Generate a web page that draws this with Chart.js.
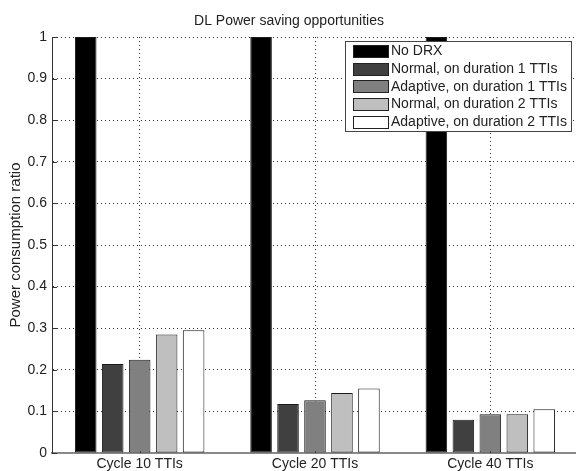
<!DOCTYPE html>
<html>
<head>
<meta charset="utf-8">
<script src="https://cdn.jsdelivr.net/npm/chart.js@4/dist/chart.umd.min.js"></script>
<style>
  html, body { margin: 0; padding: 0; background: #fff; overflow: hidden; }
  #wrap { width: 580px; height: 471px; }
</style>
</head>
<body>
<div id="wrap"><canvas id="c" width="580" height="471"></canvas></div>
<script>
// DRX cycle configurations
const categories = ['Cycle 10 TTIs', 'Cycle 20 TTIs', 'Cycle 40 TTIs'];

// Power consumption ratio per scheme
const noDrx          = [1.0, 1.0, 1.0];
const normalOn1      = [0.214, 0.118, 0.080];
const adaptiveOn1    = [0.224, 0.127, 0.093];
const normalOn2      = [0.285, 0.144, 0.093];
const adaptiveOn2    = [0.295, 0.155, 0.105];

const seriesNames = [
  'No DRX',
  'Normal, on duration 1 TTIs',
  'Adaptive, on duration 1 TTIs',
  'Normal, on duration 2 TTIs',
  'Adaptive, on duration 2 TTIs'
];
const seriesColors = ['#000000', '#404040', '#808080', '#bfbfbf', '#ffffff'];
const seriesValues = [noDrx, normalOn1, adaptiveOn1, normalOn2, adaptiveOn2];

const yTickValues = [0, 0.1, 0.2, 0.3, 0.4, 0.5, 0.6, 0.7, 0.8, 0.9, 1];

const FONT = 'Liberation Sans, Arial, Helvetica, sans-serif';
Chart.defaults.font.family = FONT;
Chart.defaults.font.size = 14;
Chart.defaults.color = '#222';

const DOTS = [1, 3];

// Short inward tick marks along the left and bottom axes
const innerTicks = {
  id: 'innerTicks',
  beforeDatasetsDraw(chart) {
    const { ctx, chartArea, scales } = chart;
    ctx.save();
    ctx.strokeStyle = '#333';
    ctx.lineWidth = 1;
    ctx.beginPath();
    yTickValues.forEach(v => {
      const y = Math.round(scales.y.getPixelForValue(v)) + 0.5;
      ctx.moveTo(chartArea.left, y);
      ctx.lineTo(chartArea.left + 5, y);
    });
    categories.forEach((_, i) => {
      const x = Math.round(scales.x.getPixelForValue(i)) + 0.5;
      ctx.moveTo(x, chartArea.bottom);
      ctx.lineTo(x, chartArea.bottom - 5);
    });
    ctx.stroke();
    ctx.restore();
  }
};

// Boxed legend in the upper right corner of the plot
const boxLegend = {
  id: 'boxLegend',
  afterDraw(chart) {
    const { ctx } = chart;
    const x0 = 345, y0 = 41, w = 226, h = 90;
    ctx.save();
    ctx.fillStyle = '#fff';
    ctx.fillRect(x0, y0, w, h);
    ctx.strokeStyle = '#444';
    ctx.lineWidth = 1;
    ctx.strokeRect(x0 + 0.5, y0 + 0.5, w, h);
    ctx.font = '14px ' + FONT;
    ctx.textBaseline = 'middle';
    ctx.textAlign = 'left';
    chart.data.datasets.forEach((ds, i) => {
      const cy = y0 + 10 + i * 17.7;
      ctx.fillStyle = ds.backgroundColor;
      ctx.fillRect(353, Math.round(cy - 6), 35, 12);
      ctx.strokeStyle = '#222';
      ctx.strokeRect(353.5, Math.round(cy - 6) + 0.5, 35, 12);
      ctx.fillStyle = '#222';
      ctx.fillText(ds.label, 391, cy + 0.5);
    });
    ctx.restore();
  }
};

new Chart(document.getElementById('c'), {
  type: 'bar',
  data: {
    labels: categories,
    datasets: seriesNames.map((name, i) => ({
      label: name,
      data: seriesValues[i],
      backgroundColor: seriesColors[i],
      borderColor: '#1a1a1a',
      borderWidth: 1,
      borderSkipped: false,
      categoryPercentage: 0.769,
      barPercentage: 0.8
    }))
  },
  options: {
    responsive: false,
    animation: false,
    layout: { padding: { left: 0, right: 2, top: 0, bottom: 0 } },
    plugins: {
      legend: { display: false },
      tooltip: { enabled: false },
      title: {
        display: true,
        text: 'DL Power saving opportunities',
        color: '#222',
        font: { size: 14, weight: 'normal', lineHeight: 1.2 },
        padding: { top: 12.5, bottom: 7.7 }
      }
    },
    scales: {
      x: {
        offset: true,
        grid: {
          offset: false,
          drawTicks: false,
          color: '#333',
          lineWidth: 1
        },
        border: { display: true, color: '#8a8a8a', width: 2, dash: DOTS },
        ticks: { padding: 3, color: '#222', font: { size: 14 } },
        afterFit(scale) { scale.height = 18; }
      },
      y: {
        min: 0,
        max: 1,
        afterBuildTicks(scale) { scale.ticks = yTickValues.map(v => ({ value: v })); },
        grid: {
          drawTicks: false,
          color: '#333',
          lineWidth: 1
        },
        border: { display: true, color: '#333', width: 1, dash: DOTS },
        ticks: {
          padding: 5,
          color: '#222',
          font: { size: 14 },
          callback: v => String(Number(v.toFixed(1)))
        },
        title: {
          display: true,
          text: 'Power consumption ratio',
          color: '#222',
          font: { size: 15, lineHeight: 1.2 },
          padding: { top: 7, bottom: 0 }
        },
        afterFit(scale) { scale.width = 52; }
      }
    }
  },
  plugins: [innerTicks, boxLegend]
});
</script>
</body>
</html>
